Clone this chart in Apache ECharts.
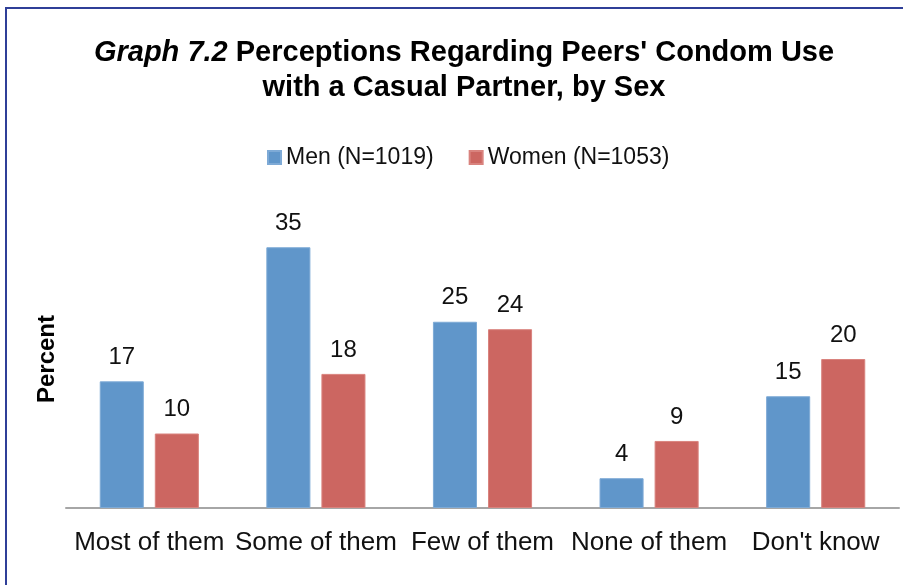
<!DOCTYPE html>
<html>
<head>
<meta charset="utf-8">
<script src="https://cdn.jsdelivr.net/npm/echarts@6/dist/echarts.min.js"></script>
<style>
  html, body { margin: 0; padding: 0; background: #fff; }
  #chart { width: 903px; height: 585px; }
</style>
</head>
<body>
<div id="chart"></div>
<script>
// Perceptions regarding peers' condom use with a casual partner, by sex (%)
const categories = ['Most of them', 'Some of them', 'Few of them', 'None of them', "Don't know"];
const menValues = [17, 35, 25, 4, 15];
const womenValues = [10, 18, 24, 9, 20];
const seriesNames = ['Men (N=1019)', 'Women (N=1053)'];
const titleLine1 = ['Graph 7.2', "Perceptions Regarding Peers' Condom Use"];
const titleLine2 = 'with a Casual Partner, by Sex';

const FONT = '"Liberation Sans", Arial, sans-serif';
const chart = echarts.init(document.getElementById('chart'));

const valueLabel = {
  show: true,
  position: 'top',
  distance: 12,
  color: '#111',
  fontSize: 24,
  fontFamily: FONT
};

chart.setOption({
  animation: false,
  backgroundColor: '#fff',
  graphic: [{
    type: 'rect',
    shape: { x: 6, y: 8, width: 1200, height: 1200 },
    style: { fill: 'none', stroke: '#2f3f98', lineWidth: 2 },
    silent: true
  }, {
    type: 'text',
    x: 464,
    y: 53,
    silent: true,
    style: {
      text: '{i|' + titleLine1[0] + '}{b| ' + titleLine1[1] + '}',
      align: 'center',
      verticalAlign: 'middle',
      rich: {
        i: { fontFamily: FONT, fontSize: 29, fontWeight: 'bold', fontStyle: 'italic', fill: '#000' },
        b: { fontFamily: FONT, fontSize: 29, fontWeight: 'bold', fill: '#000' }
      }
    }
  }, {
    type: 'text',
    x: 464,
    y: 88,
    silent: true,
    style: {
      text: titleLine2,
      align: 'center',
      verticalAlign: 'middle',
      fontFamily: FONT,
      fontSize: 29,
      fontWeight: 'bold',
      fill: '#000'
    }
  }],
  legend: {
    top: 141,
    left: 262,
    itemWidth: 13,
    itemHeight: 13,
    itemGap: 35,
    icon: 'rect',
    textStyle: { fontFamily: FONT, fontSize: 23, color: '#111' },
    data: seriesNames
  },
  grid: { left: 66, right: 4, top: 210, bottom: 77, containLabel: false },
  xAxis: {
    type: 'category',
    data: categories,
    axisLine: { lineStyle: { color: '#a6a6a6', width: 2 } },
    axisTick: { show: false },
    axisLabel: { fontFamily: FONT, fontSize: 26, color: '#111', margin: 22, interval: 0 }
  },
  yAxis: {
    type: 'value',
    min: 0,
    max: 40,
    name: 'Percent',
    nameLocation: 'middle',
    nameGap: 7,
    nameRotate: 90,
    nameTextStyle: { fontFamily: FONT, fontSize: 24, fontWeight: 'bold', color: '#000' },
    axisLine: { show: false },
    axisTick: { show: false },
    axisLabel: { show: false },
    splitLine: { show: false }
  },
  series: [{
    name: seriesNames[0],
    type: 'bar',
    data: menValues,
    barGap: '25%',
    barCategoryGap: '40.5%',
    itemStyle: { color: '#6096ca', borderColor: '#7eaad6', borderWidth: 1 },
    label: valueLabel
  }, {
    name: seriesNames[1],
    type: 'bar',
    data: womenValues,
    barGap: '25%',
    barCategoryGap: '40.5%',
    itemStyle: { color: '#cc6661', borderColor: '#d9837e', borderWidth: 1 },
    label: valueLabel
  }]
});
</script>
</body>
</html>
